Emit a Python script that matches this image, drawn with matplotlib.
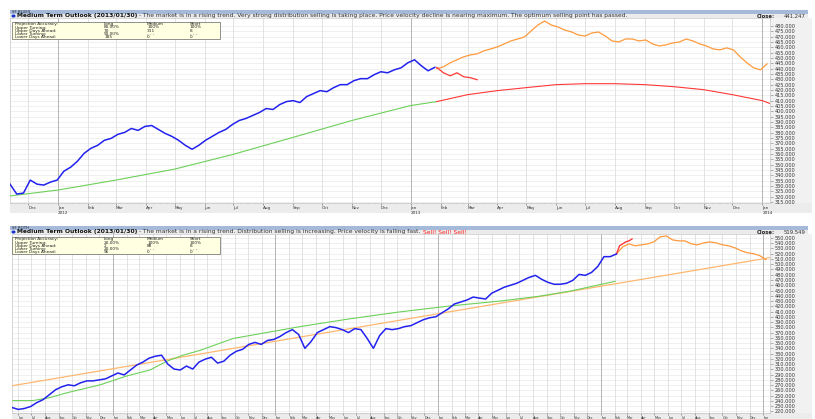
import matplotlib
matplotlib.use('Agg')
import matplotlib.pyplot as plt
import matplotlib.dates as mdates
from matplotlib.patches import Rectangle, Ellipse
from matplotlib.ticker import FormatStrFormatter
import numpy as np
import pandas as pd

W, H = 815, 419

# ---------------- top chart (weekly closes) ----------------
top_blue_start = '2011-11-12'
top_blue = [331.7, 322.4, 323.3, 335.5, 331.7, 330.8, 333.6, 335.5, 343.9, 347.6,
            353.2, 360.6, 365.3, 368.1, 372.8, 374.6, 378.4, 380.2, 383.9, 382.1,
            385.8, 386.7, 383.0, 379.3, 376.5, 372.8, 368.1, 364.4, 368.1, 372.8,
            376.5, 380.2, 383.0, 387.7, 391.4, 393.3, 396.1, 398.9, 402.6, 401.7,
            406.3, 409.1, 410.0, 408.2, 413.8, 416.6, 419.4, 418.4, 422.2, 425.0,
            425.0, 428.7, 430.6, 430.6, 434.3, 437.1, 436.1, 438.9, 440.8, 445.5,
            448.3, 442.7, 438.0, 441.2]
top_fore_start = '2013-01-28'
top_orange = [439.9, 441.7, 445.5, 448.3, 451.1, 452.9, 453.9, 456.7, 458.5, 460.4,
              463.2, 466.0, 467.8, 469.7, 475.3, 480.9, 484.6, 480.9, 479.0, 476.2,
              474.4, 471.6, 470.6, 473.4, 474.4, 470.6, 466.0, 465.0, 467.8, 467.8,
              466.0, 466.9, 463.2, 461.3, 462.3, 464.1, 465.0, 467.8, 466.0, 463.2,
              461.3, 458.5, 457.6, 459.5, 457.6, 451.1, 445.5, 440.8, 438.9, 444.5]
top_red = [441.2, 436.1, 433.3, 436.1, 432.4, 431.5, 429.6]
top_green_dates = ['2011-11-12', '2012-01-01', '2012-03-01', '2012-05-01', '2012-07-01',
                   '2012-09-01', '2012-11-01', '2013-01-01', '2013-01-28']
top_green = [320.6, 326.2, 335.5, 345.8, 359.7, 375.6, 391.4, 405.4, 409.1]
top_curve_dates = ['2013-01-28', '2013-03-01', '2013-04-01', '2013-05-01', '2013-06-01',
                   '2013-07-01', '2013-08-01', '2013-09-01', '2013-10-01', '2013-11-01',
                   '2013-12-01', '2014-01-01', '2014-01-09']
top_curve = [409.1, 415.6, 419.4, 422.2, 425.0, 425.9, 425.9, 425.0, 423.1, 420.3,
             415.6, 410.0, 407.3]

# ---------------- bottom chart (two-weekly closes) ----------------
bot_blue_start = '2009-05-19'
bot_blue = [227.5, 223.8, 225.6, 229.4, 236.9, 242.5, 251.9, 261.3, 266.9, 270.6,
            268.8, 274.4, 278.1, 278.1, 280.0, 281.9, 287.5, 293.1, 289.4, 298.8,
            308.1, 313.8, 321.3, 325.0, 326.9, 310.0, 300.6, 298.8, 306.3, 300.6,
            313.8, 319.4, 323.1, 311.9, 315.6, 326.9, 334.4, 338.1, 347.5, 351.3,
            347.5, 355.0, 356.9, 362.5, 370.0, 375.6, 366.3, 340.0, 353.1, 370.0,
            375.6, 381.3, 379.4, 375.6, 370.0, 377.5, 375.6, 358.8, 340.0, 364.4,
            377.5, 375.6, 377.5, 381.3, 383.1, 388.8, 394.4, 398.1, 400.0, 407.5,
            415.0, 424.4, 428.1, 431.9, 437.5, 435.6, 433.8, 445.0, 450.6, 456.3,
            460.0, 463.8, 469.4, 475.0, 478.8, 471.3, 465.6, 461.9, 461.9, 463.8,
            469.4, 480.6, 478.8, 484.4, 495.6, 514.4, 514.4, 519.5]
bot_fore_start = '2013-02-05'
bot_orange = [519.5, 532.9, 538.8, 535.0, 536.9, 538.8, 542.5, 551.9, 553.8, 546.3,
              544.4, 544.4, 538.8, 536.9, 540.6, 542.5, 540.6, 536.9, 535.0, 531.3,
              525.6, 521.9, 520.0, 516.3, 508.8]
bot_red = [519.5, 535.0, 538.8, 542.5, 544.4, 548.1]
bot_trend_dates = ['2009-05-19', '2014-01-16']
bot_trend = [268.8, 512.5]
bot_green_dates = ['2009-05-21', '2009-07-05', '2009-08-12', '2009-09-20', '2009-12-03',
                   '2010-02-01', '2010-03-25', '2010-05-02', '2010-06-07', '2010-07-16',
                   '2010-09-28', '2011-02-25', '2011-06-18', '2011-10-08', '2012-01-28',
                   '2012-05-20', '2012-08-18', '2012-10-24', '2013-02-02']
bot_green = [240.6, 240.6, 246.3, 255.6, 270.6, 287.5, 298.8, 315.6, 326.9, 336.3,
             358.8, 381.3, 396.3, 409.4, 420.6, 430.0, 439.4, 448.8, 467.5]

table_rows = ['Projection Accuracy:', 'Upper Turning:', 'Upper Days Ahead:',
              'Lower Turning:', 'Lower Days Ahead:']
top_table = [['Long', 'Medium', 'Short'], ['80.00%', '100%', '100%'], ['70', '311', '8'],
             ['90.00%', '- - -', '- - -'], ['185', '0', '0']]
bot_table = [['Long', 'Medium', 'Short'], ['20.00%', '100%', '100%'], ['2', '88', '8'],
             ['20.00%', '- - -', '- - -'], ['96', '0', '0']]

C_BLUE = '#2222ee'
C_ORANGE = '#ff9a3c'
C_RED = '#ff3838'
C_GREEN = '#6dd05a'
C_TREND = '#ffb870'

fig = plt.figure(figsize=(W / 100, H / 100), dpi=100)
fig.patch.set_facecolor('white')


def rect(x0, y0, x1, y1):
    return [x0 / W, 1 - y1 / H, (x1 - x0) / W, (y1 - y0) / H]


def box(x0, y0, x1, y1, fc, ec='none', lw=0, z=-10):
    fig.add_artist(Rectangle((x0 / W, 1 - y1 / H), (x1 - x0) / W, (y1 - y0) / H,
                             transform=fig.transFigure, fc=fc, ec=ec, lw=lw, zorder=z))


def text_run(x, y, parts, size):
    r = fig.canvas.get_renderer()
    for s, kw in parts:
        t = fig.text(x / W, 1 - y / H, s, fontsize=size, va='center', ha='left', **kw)
        x += t.get_window_extent(renderer=r).width


def panel(y_strip, name, header, close, tbl, tbl_y, plot_box, xlim, ylim, yticks,
          month_fmt, xsize):
    x0, y0, x1, y1 = plot_box
    # title strip and header line
    box(10, y_strip, 808, y_strip + 4, '#a4bad8')
    fig.text(12 / W, 1 - (y_strip + 2) / H, name, fontsize=2.8, va='center', color='#223')
    box(10, y_strip + 4, 808, y0, '#ebebeb')
    fig.add_artist(Ellipse((13.5 / W, 1 - (y_strip + 6) / H), 4 / W, 3 / H,
                           transform=fig.transFigure, fc='#1530d0', ec='none', zorder=4))
    text_run(17, y_strip + 6, header, 4.3)
    fig.text(757 / W, 1 - (y_strip + 6) / H, 'Close:', fontsize=3.8, va='center',
             weight='bold', color='#222')
    fig.text(784 / W, 1 - (y_strip + 6) / H, close, fontsize=3.8, va='center', color='#333')
    # right axis column and date row
    box(x1, y0, 812, y1, '#f1f1f1')
    box(x0, y1, 812, y1 + 10, '#ececec')

    ax = fig.add_axes(rect(x0, y0, x1, y1))
    ax.set_xlim(pd.Timestamp(xlim[0]), pd.Timestamp(xlim[1]))
    ax.set_ylim(*ylim)
    ax.set_yticks(yticks)
    ax.yaxis.set_major_formatter(FormatStrFormatter('%.3f'))
    ax.yaxis.tick_right()
    ax.tick_params(axis='y', labelsize=3.6, length=2, width=0.4, color='#777',
                   labelcolor='#333', pad=1.5)
    months = pd.date_range(xlim[0], xlim[1], freq='MS')
    ax.set_xticks(months)
    ax.set_xticklabels([month_fmt(m) for m in months], ha='left')
    ax.xaxis.set_minor_locator(mdates.WeekdayLocator(byweekday=0))
    ax.tick_params(axis='x', which='major', labelsize=xsize, length=1.5, width=0.4,
                   color='#555', labelcolor='#333', pad=0.8)
    ax.tick_params(axis='x', which='minor', length=1, width=0.3, color='#777')
    for y in yticks:
        ax.axhline(y, color='#e8e8e8', lw=0.45, zorder=0)
    for m in months:
        ax.axvline(m, color='#a8a8a8' if m.month == 1 else '#dedede', lw=0.6, zorder=0)
    for s in ax.spines.values():
        s.set_color('#c8c8c8')
        s.set_linewidth(0.5)

    # info table
    tx0, ty0 = 12, tbl_y
    box(tx0, ty0, tx0 + 208, ty0 + 17, '#ffffe2', '#666666', 0.5, z=5)
    for i, lab in enumerate(table_rows):
        yy = ty0 + 2.3 + i * 3.2
        fig.text((tx0 + 3) / W, 1 - yy / H, lab, fontsize=3.1, va='center', color='#222',
                 zorder=6)
        for j, cell in enumerate(tbl[i]):
            fig.text((tx0 + 92 + j * 43) / W, 1 - yy / H, cell, fontsize=3.1,
                     va='center', color='#222', zorder=6)
    return ax


def lbl_top(m):
    return m.strftime('%b') + ('\n' + m.strftime('%Y') if m.month == 1 else '')


def lbl_bot(m):
    return m.strftime('%b')


# ---------------- top panel ----------------
head_top = [('Medium Term Outlook (2013/01/30)', dict(weight='bold', color='#111')),
            (' - The market is in a rising trend. Very strong distribution selling is '
             'taking place. Price velocity decline is nearing maximum. The optimum '
             'selling point has passed.', dict(color='#333'))]
ax1 = panel(10, 'SF BLUES', head_top, '441.247', top_table, 22, (10, 18, 770, 203),
            ('2011-11-12', '2014-01-09'), (314, 487.5), np.arange(315, 481, 5), lbl_top, 3.0)

d = pd.date_range(top_blue_start, periods=len(top_blue), freq='7D')
ax1.plot(d, top_blue, color=C_BLUE, lw=1.1, zorder=5)
d = pd.date_range(top_fore_start, periods=len(top_orange), freq='7D')
ax1.plot(d, top_orange, color=C_ORANGE, lw=0.9, zorder=4)
d = pd.date_range(top_fore_start, periods=len(top_red), freq='7D')
ax1.plot(d, top_red, color=C_RED, lw=0.9, zorder=4)
ax1.plot(pd.to_datetime(top_green_dates), top_green, color=C_GREEN, lw=0.8, zorder=3)
ax1.plot(pd.to_datetime(top_curve_dates), top_curve, color=C_RED, lw=0.8, zorder=3)

# ---------------- bottom panel ----------------
head_bot = [('Medium Term Outlook (2013/01/30)', dict(weight='bold', color='#111')),
            (' - The market is in a rising trend. Distribution selling is increasing. '
             'Price velocity is falling fast. ', dict(color='#333')),
            ('Sell! Sell! Sell!', dict(color='#ff2020'))]
ax2 = panel(226, 'SF ROTH', head_bot, '519.549', bot_table, 237, (12, 234, 770, 413),
            ('2009-05-19', '2014-01-16'), (217, 557.5), np.arange(220, 551, 10), lbl_bot, 2.4)

ax2.plot(pd.to_datetime(bot_trend_dates), bot_trend, color=C_TREND, lw=0.9, zorder=3)
ax2.plot(pd.to_datetime(bot_green_dates), bot_green, color=C_GREEN, lw=0.8, zorder=3)
d = pd.date_range(bot_blue_start, periods=len(bot_blue), freq='14D')
ax2.plot(d, bot_blue, color=C_BLUE, lw=1.1, zorder=5)
d = pd.date_range(bot_fore_start, periods=len(bot_orange), freq='14D')
ax2.plot(d, bot_orange, color=C_ORANGE, lw=0.9, zorder=4)
d = pd.date_range(bot_fore_start, periods=len(bot_red), freq='7D')
ax2.plot(d, bot_red, color=C_RED, lw=1.0, zorder=4)

fig.savefig('out.png', dpi=100)
